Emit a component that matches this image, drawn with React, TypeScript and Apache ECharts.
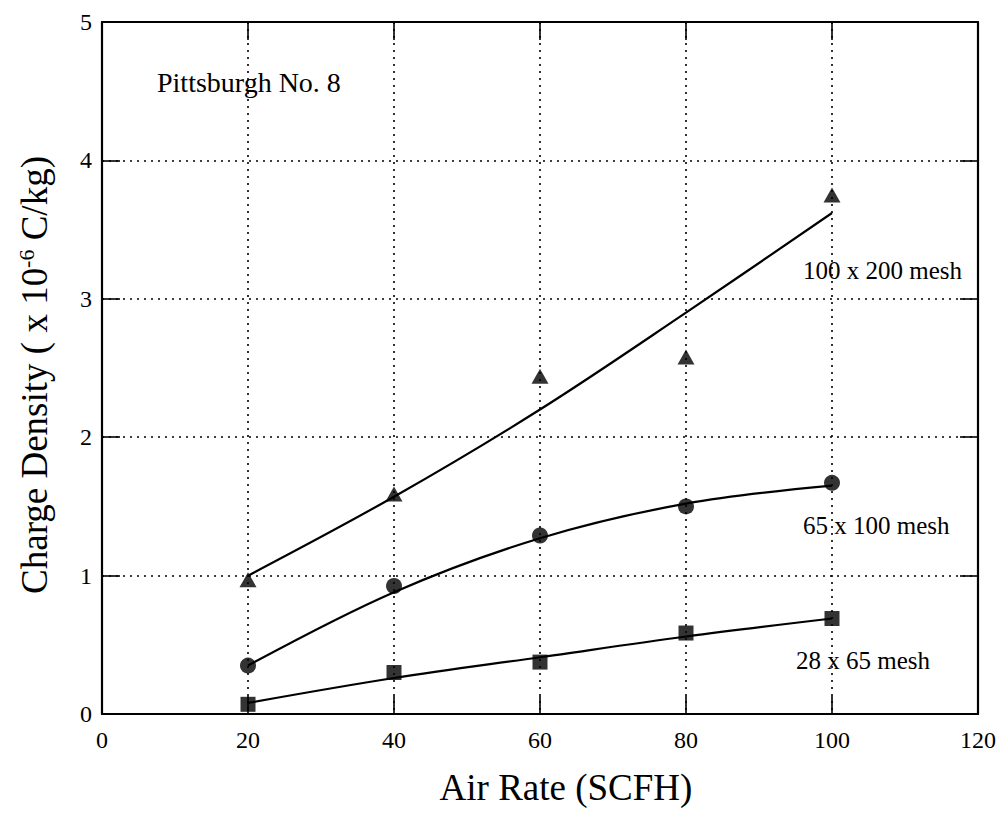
import React, { useEffect, useRef } from "react";
import * as echarts from "echarts";

const airRate = [20, 40, 60, 80, 100];
const mesh100x200 = [0.97, 1.59, 2.44, 2.58, 3.75];
const mesh65x100 = [0.35, 0.925, 1.29, 1.5, 1.67];
const mesh28x65 = [0.07, 0.3, 0.375, 0.585, 0.69];
const fit100x200 = [1.0, 1.57, 2.2, 2.9, 3.62];
const fit65x100 = [0.35, 0.88, 1.27, 1.52, 1.65];
const fit28x65 = [0.08, 0.26, 0.41, 0.56, 0.69];
const seriesLabels = ["100 x 200 mesh", "65 x 100 mesh", "28 x 65 mesh"];

const FONT = "'Liberation Serif', 'Times New Roman', serif";

const pairs = (xs: number[], ys: number[]) => xs.map((x, i) => [x, ys[i]]);

export default function App() {
  const ref = useRef<HTMLDivElement>(null);
  useEffect(() => {
    if (!ref.current) return;
    const chart = echarts.init(ref.current, null, { renderer: "svg" });
    const grid = { left: 102, right: 25, top: 22, bottom: 102 };
    const dotted = { type: [2, 5] as any, color: "#000", width: 1.6 };
    const axisLine = { show: true, onZero: false, lineStyle: { color: "#000", width: 2.2 } };
    const tick = { show: true, inside: true, length: 18, lineStyle: { color: "#000", width: 1.6 } };
    const scatter = (name: string, data: number[], symbol: string, size: any) => ({
      type: "scatter",
      name,
      data: pairs(airRate, data),
      symbol,
      symbolSize: size,
      itemStyle: { color: "#000" },
      z: 5,
    });
    const fit = (data: number[]) => ({
      type: "line",
      data: pairs(airRate, data),
      smooth: 0.35,
      showSymbol: false,
      symbol: "none",
      lineStyle: { color: "#000", width: 2.2 },
      z: 4,
    });
    chart.setOption({
      animation: false,
      backgroundColor: "#fff",
      grid,
      xAxis: [
        {
          type: "value", min: 0, max: 120, interval: 20, position: "bottom",
          axisLine, axisTick: tick,
          axisLabel: { fontSize: 24, fontFamily: FONT, color: "#000", margin: 14 },
          splitLine: { show: true, lineStyle: dotted },
        },
        {
          type: "value", min: 0, max: 120, interval: 20, position: "top",
          axisLine, axisTick: tick, axisLabel: { show: false }, splitLine: { show: false },
        },
      ],
      yAxis: [
        {
          type: "value", min: 0, max: 5, interval: 1, position: "left",
          axisLine, axisTick: tick,
          axisLabel: { fontSize: 24, fontFamily: FONT, color: "#000", margin: 10 },
          splitLine: { show: true, lineStyle: dotted },
        },
        {
          type: "value", min: 0, max: 5, interval: 1, position: "right",
          axisLine, axisTick: tick, axisLabel: { show: false }, splitLine: { show: false },
        },
      ],
      series: [
        fit(fit100x200),
        fit(fit65x100),
        fit(fit28x65),
        scatter(seriesLabels[0], mesh100x200, "triangle", [17, 15]),
        scatter(seriesLabels[1], mesh65x100, "circle", 16),
        scatter(seriesLabels[2], mesh28x65, "rect", 15),
      ],
      graphic: [
        {
          type: "text", x: 157, y: 82,
          style: { text: "Pittsburgh No. 8", fontSize: 28, fontFamily: FONT, fill: "#000", verticalAlign: "middle" },
        },
        {
          type: "text", x: 803, y: 270,
          style: { text: seriesLabels[0], fontSize: 25, fontFamily: FONT, fill: "#000", verticalAlign: "middle" },
        },
        {
          type: "text", x: 803, y: 525,
          style: { text: seriesLabels[1], fontSize: 25, fontFamily: FONT, fill: "#000", verticalAlign: "middle" },
        },
        {
          type: "text", x: 796, y: 660,
          style: { text: seriesLabels[2], fontSize: 25, fontFamily: FONT, fill: "#000", verticalAlign: "middle" },
        },
        {
          type: "text", x: 566, y: 787,
          style: { text: "Air Rate (SCFH)", fontSize: 37, fontFamily: FONT, fill: "#000", align: "center", verticalAlign: "middle" },
        },
        {
          type: "text", x: 34, y: 375, rotation: Math.PI / 2,
          style: {
            text: "{a|Charge Density ( x 10}{s|-6}{a| C/kg)}",
            align: "center", verticalAlign: "middle", fill: "#000",
            rich: {
              a: { fontSize: 37, fontFamily: FONT, fill: "#000", verticalAlign: "bottom" },
              s: { fontSize: 22, fontFamily: FONT, fill: "#000", verticalAlign: "top" },
            },
          },
        },
      ],
    });
    return () => chart.dispose();
  }, []);
  return (
    <div
      ref={ref}
      style={{ position: "fixed", left: 0, top: 0, width: 1003, height: 816, background: "#fff" }}
    />
  );
}
